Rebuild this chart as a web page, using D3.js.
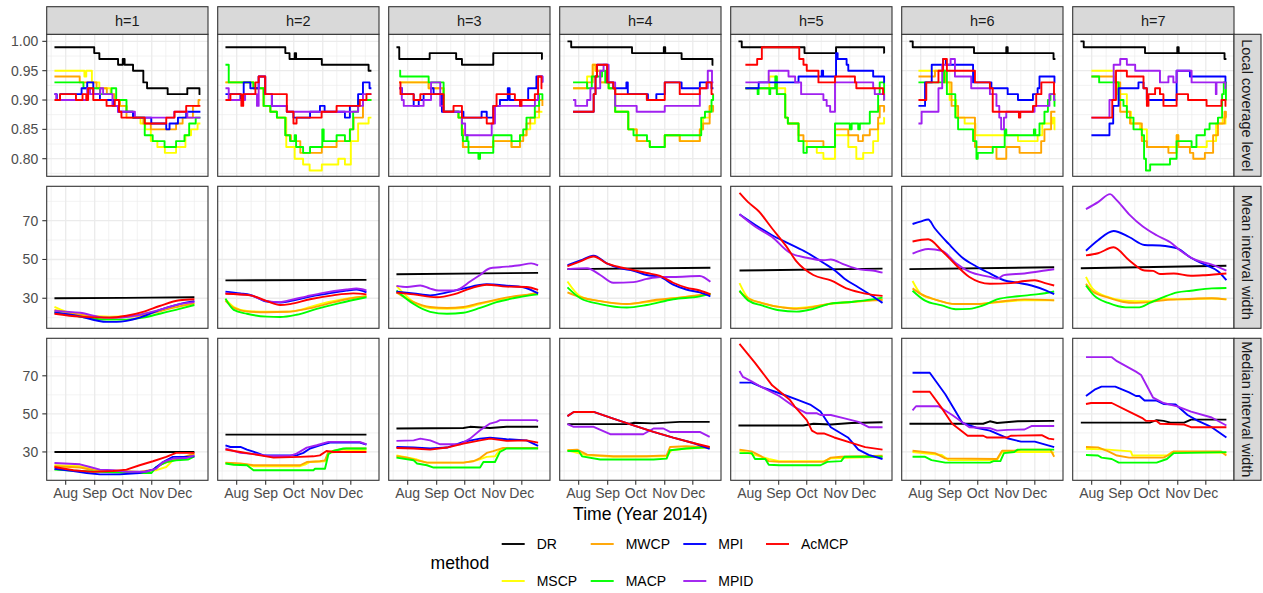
<!DOCTYPE html>
<html><head><meta charset="utf-8">
<script src="https://cdn.jsdelivr.net/npm/d3@7"></script>
<style>body{margin:0;background:#fff;} text{font-family:"Liberation Sans",Arial,Helvetica,sans-serif;}</style>
</head><body><svg id="c" width="1263" height="593"></svg>
<script>
// ---------- categories / labels ----------
const methods = ["DR","MSCP","MWCP","MACP","MPI","MPID","AcMCP"]; // factor / drawing order
const legendOrder = ["DR","MWCP","MPI","AcMCP","MSCP","MACP","MPID"];
const methodColors = ["#000000","#FFFF00","#FFA500","#00FF00","#0000FF","#A020F0","#FF0000"];
const horizons = ["h=1","h=2","h=3","h=4","h=5","h=6","h=7"];
const rowLabels = ["Local coverage level","Mean interval width","Median interval width"];
const monthLabels = ["Aug","Sep","Oct","Nov","Dec"];
const covTicks = [0.80,0.85,0.90,0.95,1.00];
const widthTicks = [30,50,70];
// series are [day, value, day, value, ...] with day = days since 2014-07-20

// ---------- Local coverage level (step series) ----------
const cov_h1 = {
 DR:[0,.99,42.5,.98,48,.97,68,.96,73,.97,75,.96,84,.95,95,.93,99,.92,121,.91,142,.92,155,.91,156,.91],
 MSCP:[0,.95,32,.94,34,.95,40,.93,48,.92,60,.91,64,.9,70,.89,77,.88,84,.87,92,.86,97,.85,103,.83,110,.82,118,.81,130,.82,140,.84,146,.85,153,.86,156,.86],
 MWCP:[0,.94,27,.93,45,.92,56,.91,64,.9,70,.89,77,.87,95,.86,103,.85,130,.86,137,.87,148,.89,154,.9,156,.9],
 MACP:[0,.93,31,.92,48.6,.91,61,.92,66,.9,77,.88,84,.87,96.5,.84,105,.83,117.7,.82,130,.83,139,.84,144,.86,151,.87,156,.87],
 MPI:[0,.91,2.5,.9,6,.91,29,.92,35,.93,41.5,.91,48.6,.9,62.8,.89,68,.88,84,.87,103.5,.86,119.5,.85,123,.86,132,.87,140.8,.88,156,.88],
 MPID:[0,.91,2,.9,35,.92,38,.91,49,.92,52,.91,62,.89,68,.88,86,.87,128,.88,142,.87,156,.87],
 AcMCP:[0,.9,6,.91,23,.9,30,.91,34,.9,36,.92,41.5,.9,55.7,.89,64.5,.9,69,.88,71.6,.87,96.5,.86,119.5,.87,128.4,.88,140.8,.89,156,.89]
};
const cov_h2 = {
 DR:[0,.99,64,.98,68.5,.97,74,.98,75.5,.97,103,.96,153,.95,156,.95],
 MSCP:[0,.93,30,.92,40.8,.89,48,.88,55,.87,65,.82,74,.8,83,.79,90,.78,103,.79,120.6,.8,127.7,.79,134,.83,141.8,.86,153,.87,156,.87],
 MWCP:[0,.93,30,.92,40.8,.89,48,.88,55,.87,64,.84,70,.83,80,.81,103,.82,118.8,.83,133,.85,137,.87,147,.9,156,.9],
 MACP:[0,.96,3.5,.93,30,.92,40.8,.89,48,.88,55,.87,64,.84,69,.83,74,.84,75.5,.82,83,.81,90.4,.82,103.5,.85,105,.83,118.8,.84,127.7,.83,133,.85,136.5,.88,141.8,.9,156,.9],
 MPI:[0,.91,16,.9,19.5,.93,26.6,.92,35.5,.94,42.5,.91,49.6,.89,65.6,.88,72.7,.87,90.4,.88,101,.89,106,.88,127.7,.87,133,.89,141.8,.91,147,.93,154,.92,156,.92],
 MPID:[0,.92,3.5,.9,21,.91,33.7,.89,35.5,.94,42.5,.91,49.6,.89,65.6,.88,141.8,.89,147,.91,156,.91],
 AcMCP:[0,.9,5.3,.91,17,.89,19,.91,32,.93,35.5,.94,42.5,.91,65.6,.88,72.7,.86,76,.87,102.8,.88,118.8,.89,143.6,.9,150.7,.91,156,.91]
};
const cov_h3 = {
 DR:[0,.99,3,.97,35.5,.98,63.8,.97,70,.96,103.5,.98,155.5,.97,156,.97],
 MSCP:[3,.93,34.4,.92,50.4,.88,66.3,.87,69.9,.85,71,.82,103.5,.83,123,.82,132,.84,139,.85,143,.86,148,.87,152.5,.88,156,.88],
 MWCP:[3,.93,34.4,.92,50.4,.88,66.3,.87,69.9,.85,71,.82,103.5,.83,123,.82,132,.83,135.5,.84,139,.86,143,.87,148,.88,152.5,.9,156,.89],
 MACP:[3,.95,4,.94,34.4,.93,50.4,.88,66.3,.87,69.9,.84,71,.83,75,.84,76,.83,77,.81,87.6,.8,89.4,.81,103.5,.84,123,.83,132,.84,135.5,.85,139,.87,147.9,.89,152.5,.91,156,.9],
 MPI:[3,.92,6,.91,18.4,.89,23.8,.9,29,.91,37,.92,39.7,.91,48.6,.88,71.6,.87,91,.88,96.5,.87,103.5,.89,110.6,.9,119,.92,121,.9,140.8,.92,149.6,.94,156,.93],
 MPID:[3,.92,5.7,.9,7.8,.89,29,.9,37,.93,46.8,.89,50.4,.88,70,.86,73.4,.84,101.8,.86,105.3,.89,148,.9,151.4,.94,156,.93],
 AcMCP:[3,.93,4.3,.91,18.4,.9,25.5,.91,50.4,.88,61,.89,70,.87,96.5,.86,103.5,.89,107,.91,126.6,.9,132,.89,133.7,.9,147.9,.91,151.4,.94,155,.92,156,.92]
};
const cov_h4 = {
 DR:[0,1.0,4,.99,69,.98,103,.99,104.5,.98,122,.97,155,.96,156,.96],
 MSCP:[6,.92,21,.94,27,.96,30,.95,35,.93,44,.92,51,.88,65,.85,74,.83,88,.82,104,.84,120,.83,141.5,.85,145,.87,152,.89,156,.89],
 MWCP:[6,.92,21,.93,27,.96,30,.95,35,.93,44,.92,51,.88,65,.85,74,.83,88,.82,104,.84,120,.83,141.5,.85,145,.86,152,.89,155.7,.88,156,.88],
 MACP:[6,.93,21,.92,26,.94,37,.95,40.4,.93,44,.92,51,.88,65,.85,70.6,.84,85,.83,88,.82,104,.84,143,.87,147,.88,154,.9,155.7,.91,156,.91],
 MPI:[6,.88,28,.91,30,.94,31.5,.96,42.5,.93,49,.92,63,.93,64.5,.91,86,.9,95,.91,104,.93,122,.92,141.5,.93,154,.92,156,.92],
 MPID:[6,.9,8.5,.89,21,.9,24.5,.92,35,.95,38.6,.96,44,.93,51,.89,74,.88,104,.89,141.5,.92,150,.95,154.5,.93,156,.93],
 AcMCP:[6,.88,28,.91,30,.94,31.5,.96,42.5,.93,49,.92,51,.91,84.8,.9,104,.93,120,.91,141.5,.92,148.6,.93,154,.91,156,.91]
};
const cov_h5 = {
 DR:[0,1.0,3.5,.99,70.6,.98,104.3,.99,155.7,.98,156,.98],
 MSCP:[7.4,.92,33,.94,41,.92,50,.87,52.8,.86,64.2,.83,73,.82,83.7,.81,90.8,.8,103.2,.84,117.4,.82,126,.8,133.3,.81,144,.83,149.3,.86,155.7,.87,156,.87],
 MWCP:[7.4,.92,39.4,.93,41,.91,50,.87,52.8,.86,64.2,.84,69.5,.83,90.8,.82,103.2,.85,117.4,.84,128,.83,133,.84,140.4,.85,149.3,.87,151,.89,155.7,.88,156,.88],
 MACP:[7.4,.92,20.5,.91,21.5,.92,33,.91,34,.92,39.4,.94,41,.91,50,.87,52.8,.86,64.2,.83,69.5,.81,73,.82,103.2,.86,119,.85,121,.86,128,.85,129.8,.86,140.4,.88,149.3,.91,151,.93,155.7,.9,156,.9],
 MPI:[7.4,.92,21.6,.93,64.2,.94,89,.95,90.5,.94,104.3,.98,106,.97,115.6,.96,117.4,.95,144,.94,155.7,.93,156,.93],
 MPID:[7.4,.93,32.3,.95,53.5,.94,60.6,.93,67,.91,90.8,.9,94.3,.89,98,.88,103.2,.93,144,.92,145.7,.91,155.7,.9,156,.9],
 AcMCP:[7.4,.96,20,.97,25,.99,65,.97,69.5,.96,73,.95,85.5,.93,103.2,.94,124.5,.93,126,.92,154.6,.91,156,.91]
};
const cov_h6 = {
 DR:[0,1.0,3.5,.99,69,.98,103.5,.99,105,.98,154,.97,156,.97],
 MSCP:[9.6,.95,36,.93,43,.9,50,.87,59,.86,70.5,.84,116,.83,137,.84,142,.86,153,.87,155,.85,156,.85],
 MWCP:[9.6,.94,27.3,.95,38,.93,45,.89,52,.87,70,.82,93,.8,103.5,.82,117.7,.81,140.8,.83,144.3,.85,151.4,.88,156,.88],
 MACP:[9.6,.93,37,.95,40,.91,49,.87,52,.85,68,.83,71.6,.8,73,.81,89,.82,101.8,.85,103.5,.84,133,.85,134.5,.84,139,.86,144.3,.88,148,.9,150.7,.91,155,.89,156,.89],
 MPI:[9.6,.89,16.7,.93,23.8,.96,36,.97,39,.96,68,.93,87.6,.92,105,.91,116,.9,132,.91,137,.92,139,.94,155,.93,156,.93],
 MPID:[9.6,.86,13,.88,31,.92,35,.96,44,.97,48.6,.94,66,.92,86,.91,93,.89,96,.87,98,.85,101,.87,103.5,.88,133.7,.89,149.6,.91,154.5,.9,156,.9],
 AcMCP:[9.6,.9,18,.93,31,.95,36,.97,40,.95,70,.93,86,.92,89,.88,117,.87,118.5,.88,132,.89,135.5,.91,141,.93,154.5,.91,156,.91]
};
const cov_h7 = {
 DR:[0,1.0,3.5,.99,69,.98,103.5,.99,105,.98,154,.97,156,.97],
 MSCP:[11.7,.95,37,.93,40,.91,49.6,.88,54,.86,63.8,.85,71,.82,103,.84,104.6,.82,135,.83,145,.86,152,.87,155,.86,156,.86],
 MWCP:[11.7,.94,37,.93,42.5,.88,53,.86,65.6,.83,71,.82,94,.81,102.8,.84,104.6,.82,117,.81,120.6,.8,133,.81,141.8,.84,147,.86,154,.88,155.5,.87,156,.87],
 MACP:[11.7,.94,20,.93,40.8,.9,46,.89,49.6,.87,56.7,.85,65.6,.84,68,.8,70,.78,74.5,.79,95.7,.8,102.8,.83,118.8,.82,124,.84,133,.85,138,.86,147,.87,151.4,.91,153.2,.93,155.5,.9,156,.9],
 MPI:[11.7,.84,31,.86,35,.89,40.8,.92,62,.93,67.4,.92,70.9,.9,102.8,.95,117,.94,155,.93,156,.93],
 MPID:[11.7,.87,31,.9,35.5,.96,42.5,.97,49.6,.96,58.5,.95,85,.93,94,.94,99.3,.93,102.8,.95,118.8,.93,144.7,.91,145.4,.93,155,.92,156,.92],
 AcMCP:[11.7,.87,30,.87,34,.9,38,.95,49.6,.94,67.4,.92,71,.89,72.7,.91,79.8,.92,85,.91,88.7,.89,102.8,.91,115,.9,134.8,.89,150.7,.9,155,.89,156,.89]
};

// ---------- Mean interval width ----------
const mean_h1 = {
 DR:[0,30,75,30.2,149.6,30.5],
 MSCP:[0,25.5,20.2,22,59.2,20.5,84,21,105.3,23,126.6,25.5,149.6,27],
 MWCP:[0,24,27.3,21.5,59.2,20,84,20.5,101.8,22,126.6,25,149.6,27.5],
 MACP:[0,23,27.3,20.5,55.7,19,77,19,94.7,20,112.4,22,133.7,24.5,149.6,26.5],
 MPI:[0,22.5,23.8,21,55.7,17.8,66.3,17.8,91,20,112.4,24,133.7,27,149.6,28.5],
 MPID:[0,23.5,27.3,22.5,55.7,20,66.3,20,91,21.5,112.4,24,133.7,27,149.6,28],
 AcMCP:[0,22,27.3,20.5,59.2,20,77,21,94.7,23,112.4,26,133.7,29,149.6,29.5]
};
const mean_h2 = {
 DR:[0,39.2,150.7,39.5],
 MSCP:[0,29.5,8.9,25.5,23,23.5,44.3,23,65.6,23,79.8,24,101,27,126,29.5,150.7,31],
 MWCP:[0,28.8,8.9,25,26.6,23,44.3,22.8,65.6,23,86.9,24.5,108,27,129.4,29.5,150.7,31],
 MACP:[0,29.8,8.9,24,23,22,44.3,20.5,58.5,20.3,76,21.5,97.5,24.5,122,27.5,150.7,30.5],
 MPI:[0,33.4,16,32.5,26.6,31.7,44.3,28.3,58.5,27.8,69,28.5,86.9,30.5,104.6,32,129.4,34,140,34.5,150.7,33],
 MPID:[0,32.5,16,32,26.6,31.5,44.3,28.5,58.5,28,69,29,86.9,31,104.6,32.8,129.4,34.5,140,35,150.7,34],
 AcMCP:[0,32.3,26.6,31.5,44.3,28.5,58.5,26.5,69,27,90.4,29.5,115,31.5,136.5,32.5,150.7,32]
};
const mean_h3 = {
 DR:[0,42.4,151.4,43.1],
 MSCP:[0,36.4,18.4,28,36,25,54,24.6,71.6,25,89.4,27,107,29,124.8,30.5,142.5,32,151.4,33],
 MWCP:[0,33,18.4,28,36,25.5,54,25,71.6,25.5,89.4,27.5,107,29.3,124.8,31,142.5,32,151.4,33],
 MACP:[0,34,18.4,27,36,23,54,22,71.6,22.5,89.4,25,107,28,124.8,30,142.5,31.5,151.4,32],
 MPI:[0,33.4,18.4,32.5,36,31.5,54,33,71.6,35,96.5,37.2,117.7,36.5,135.5,35.7,151.4,32.5],
 MPID:[0,36.4,11.3,35.8,25.5,36.6,36,35,45,34,61,34,68,35,78.7,38.6,89.4,42,100,45.5,110.6,46,132,47,144,48,151.4,47],
 AcMCP:[0,32.9,18.4,32,43,30.5,61,32,78.7,35,96.5,37,117.7,36,139,35.8,151.4,34.3]
};
const mean_h4 = {
 DR:[0,45,152.8,45.7],
 MSCP:[0,38.6,13.8,31,35,28.5,63.5,27,84.8,28,113,30,141.5,31.5,152.8,32],
 MWCP:[0,33,13.8,30.5,35,28.5,63.5,27,92,29,120,30.3,152.8,32.3],
 MACP:[0,35.6,13.8,30,35,27,63.5,25.2,84.8,26.5,113,29.5,141.5,31,152.8,32.3],
 MPI:[0,47,13.8,49.5,28,52,42,48,56,45.5,70.6,44.2,84.8,42,99,41,113,37,127,34.5,141.5,33,152.8,31],
 MPID:[0,45,21,45.5,35,42,49,38,70.6,38.3,84.8,40,99,41,113,41,141.5,41.5,152.8,38.5],
 AcMCP:[0,46.5,13.8,49,28,51.5,42,48,56,46,70.6,44.5,84.8,43,99,41.5,113,38,127,35.5,141.5,34,152.8,32]
};
const mean_h5 = {
 DR:[1.1,44.3,154,45.3],
 MSCP:[1.1,37.8,10.3,30.3,25,27.6,47,25.3,62,24.9,80,25.8,98.7,27.1,120.8,28.1,143,28.9,154,29.4],
 MWCP:[1.1,33.5,10.3,30,25,27.5,47,25.3,62,24.6,80,25.5,98.7,27.3,120.8,28.1,143,28.9,154,29.1],
 MACP:[1.1,33.9,10.3,28.9,25,26.3,43.5,23.8,62,23.1,80,24.5,98.7,27.2,120.8,28.1,143,29.4,154,30.3],
 MPI:[1.1,73.3,17.7,67.9,36,62.5,54.5,58,73,53.6,91,48.2,102.4,44.6,113.4,40.1,128,35.7,143,31.2,154,27.6],
 MPID:[1.1,73.3,17.7,67,36,61.6,54.5,53.6,73,50.9,91,49.6,98.7,50,113.4,47.3,128,45,143,44.3,154,43.2],
 AcMCP:[1.1,84.4,10.3,79.6,21.4,75,36,66,50.8,57,62,49,80,42,98.7,39.2,117,34.8,135.5,32.4,154,31.2]
};
const mean_h6 = {
 DR:[0,45,154.7,46],
 MSCP:[3.3,38.9,12.5,32.1,27,29.4,49.4,27,71.5,27,93.6,27.9,123,29,154.7,29],
 MWCP:[3.3,35.1,12.5,32.1,27,29.4,49.4,27,71.5,27,93.6,28.1,123,29.4,154.7,28.9],
 MACP:[3.3,33.9,16.2,28.9,34.6,26.3,49.4,24.3,64,24.5,78.8,26.3,93.6,29.4,115.7,31,137.8,32.1,154.7,33.5],
 MPI:[3.3,68.3,12.5,69.7,20,70.6,27,66.1,42,58,56.7,50.9,71.5,46.4,86,42.8,101,39.3,115.7,38,130.4,36.6,145,34.2,154.7,32.1],
 MPID:[3.3,53,20,55.4,34.6,54.5,49.4,48.2,64,43.7,86,41,93.6,40.1,101,41.9,123,42.8,145,44.3,154.7,45],
 AcMCP:[3.3,59.3,20,60.4,34.6,54.5,49.4,47.3,64,41,86,37.5,108.3,37.8,123,38.9,134,39.3,145,37.8,154.7,36.6]
};
const mean_h7 = {
 DR:[0.4,45.5,156,46.8],
 MSCP:[5.9,41,13.3,34.8,29.8,30.6,44.6,28.9,59.3,28.5,74,28.5,88.8,29.9,103.5,29.4,140.5,29.9,156,29.4],
 MWCP:[5.9,37.5,13.3,33.5,29.8,30.3,44.6,28.2,59.3,27.6,74,28,88.8,29,103.5,29.4,140.5,30,156,29.4],
 MACP:[5.9,36.6,15,31.2,29.8,27.6,48.3,25.3,63,25.3,74,27.6,88.8,30.6,103.5,33,118,33.9,140.5,35.1,156,35.3],
 MPI:[5.9,54.5,18.8,59.9,35.4,64.7,52,61.6,68.5,57.5,85,57.2,103.5,55.7,118,50.9,133,47.3,147.7,43.7,156,39.3],
 MPID:[5.9,76,18.8,79.6,31.7,83.7,37.2,81.4,52,73.3,66.7,67,81.4,62.5,96,58.9,107,54.5,122,50,140.5,47.3,156,44.3],
 AcMCP:[5.9,52.1,18.8,53.2,35.4,56.3,52,49.6,68.5,44.3,77.7,44.1,85,42.5,99.8,42.8,118,41.6,133,41.9,156,42.8]
};

// ---------- Median interval width ----------
const med_h1 = {
 DR:[0,30,149.6,30],
 MSCP:[0,23,27.3,22.5,48.6,20.4,91,19.5,108.9,20.4,119.5,22.1,126.6,25.6,140.8,26.5,149.6,28.8],
 MWCP:[0,22.5,27.3,21.8,41.5,20.4,62.8,20,91,19.5,105.3,20.7,116,23.9,126.6,25.6,149.6,29.1],
 MACP:[0,20.7,27.3,20,48.6,19.5,84,18.9,103.5,18.9,108.9,22.1,119.5,24.7,130,25.6,142.6,26,149.6,27.7],
 MPI:[0,21.2,20.2,20,34.4,18.9,48.6,18.2,69.9,18.2,91,18.9,105.3,20.7,116,24.7,126.6,27.4,140.8,27.4,149.6,27.7],
 MPID:[0,24.2,27.3,23.5,38,22.1,48.6,20.7,62.8,20.4,77,19.6,98,19.6,108.9,21.2,116,24.7,126.6,26.5,140.8,26.8,149.6,28.2],
 AcMCP:[0,22.1,20.2,20.4,41.5,19.5,62.8,20,77,20.7,91,23,105.3,25.1,119.5,27.4,130,29.5,149.6,29.5]
};
const med_h2 = {
 DR:[0,39.1,150.7,39.1],
 MSCP:[0,24.2,23,23.3,30,22.5,79.8,22.5,85,23.3,90.4,24.7,106.4,25.1,110,29.5,129.4,30.5,150.7,30.9],
 MWCP:[0,24.4,16,23.9,30,23,79.8,23,86.9,24.7,101,25.1,106.4,25.6,110,30,118.8,30.9,129.4,31.8,150.7,31.8],
 MACP:[0,23.9,8.9,23.3,23,23,30,20.4,94,20.4,95.7,21.2,106.4,21.2,110,28.8,115,30.5,126,31.8,150.7,31.8],
 MPI:[0,33.5,5.3,32.6,16,32.6,23,31.2,33.7,29.5,40.8,28.2,76,28.2,83.3,29.5,90.4,31.8,101,33.5,111.7,34.9,143.6,34.9,150.7,33.9],
 MPID:[0,31.8,16,29.5,33.7,28.8,44.3,27.9,69,27.9,76,29.1,86.9,32.3,97.5,33.5,110,35.3,143.6,35.3,150.7,34],
 AcMCP:[0,31.2,16,30,37.2,28.2,51.4,27,79.8,27.4,94,27.7,101,28.2,108,30.5,115,30,150.7,30]
};
const med_h3 = {
 DR:[0,42.3,71.6,42.6,78.7,43.2,100,42.6,117.7,43.2,151.4,43.2],
 MSCP:[0,28.2,22,26,32.6,24.4,71.6,24.4,85.8,25.6,96.5,27.4,105.3,27.7,110.6,31.2,117.7,32.1,151.4,32.1],
 MWCP:[0,27.7,11.3,27,22,25.6,32.6,24.4,71.6,24.4,82.3,25.1,89.4,26.8,96.5,29.5,103.5,30.4,114,32.1,151.4,32.1],
 MACP:[0,27,18.4,25.6,22,23.9,32.6,23,39.7,21.8,89.4,21.8,92.9,24.7,105.3,24.7,110.6,30,117.7,31.8,151.4,31.8],
 MPI:[0,32.6,18.4,32.3,36,31.8,54,32.3,71.6,35.3,89.4,37,100,37.5,117.7,36.7,139,36.1,151.4,33.2],
 MPID:[0,35.8,18.4,36.1,25.5,37,36,36.1,46.8,34,68,34,78.7,37,89.4,41.4,100,44.9,107,45.8,110.6,46.7,149.6,46.7,151.4,46.1],
 AcMCP:[0,32.1,18.4,31.8,36,31.2,54,32.3,71.6,34.4,89.4,36.1,100,37,117.7,35.8,139,36.1,151.4,34.9]
};
const med_h4 = {
 DR:[0,44.6,63,44.6,70.6,45.3,92,45,106,45.4,120,45.8,152,45.8],
 MSCP:[0,30.9,21,28.2,49,27.4,106,27.7,111.3,30.9,127,31.8,152,32.3],
 MWCP:[0,30.9,10.3,31.2,21,28.6,49,27.7,84.8,27.7,106,28.2,109.6,32.6,127,33,152,32.3],
 MACP:[0,30.5,12,30.5,15.6,27.7,35,26,92,26,106,26.5,109.6,30.9,127,31.8,152,32.6],
 MPI:[0,48.8,6.7,51,28,51,49,47.5,70.6,44,92,40.5,113,37.5,134.4,34.7,152,31.6],
 MPID:[0,44.6,6.7,43.2,28,43.2,45.7,39.3,81,39.3,92,42.3,102.5,42.3,109.6,40.5,141.5,40.5,152,37.9],
 AcMCP:[0,48.8,6.7,51,28,51,49,47.5,70.6,44,92,40.5,113,37.5,134.4,34.7,152,32.6]
};
const med_h5 = {
 DR:[0,43.9,69.2,43.9,80.3,44.8,98.7,44.4,120.8,45.2,154,45.6],
 MSCP:[1.1,30.7,32.4,26.3,43.5,25.2,91.3,25.2,98.7,26.6,154,27.5],
 MWCP:[1.1,31.2,14,30.3,25,27.5,32.4,25.2,43.5,24.8,91.3,24.8,98.7,27,109.8,27.5,154,28],
 MACP:[1.1,29.4,14,29.4,17.7,26.3,28.7,26.3,32.4,23.3,43.5,23,87.7,23,95,24.8,109.8,25.2,113.4,27.5,154,27.5],
 MPI:[1.1,66.4,14,66.4,25,64,47,60.3,62,57.6,76.6,54.9,87.7,51.2,98.7,43,117,37.6,128.2,31.2,139.2,28.5,154,26.3],
 MPID:[1.1,72.5,4.8,69.4,14,67.1,25,64,43.5,59.4,60,53.6,73,50.3,84,50.3,87.7,49.4,98.7,49.4,113.4,47.6,128.2,45.8,139.2,43,154,43],
 AcMCP:[1.1,86.8,17.7,76.8,36,65,54.5,57.6,60,54,73,46.7,78.5,41.2,84,39.7,91.3,39.7,102.4,37.6,120.8,34.8,135.5,32.5,154,31.2]
};
const med_h6 = {
 DR:[0,44.8,78.8,44.8,86,46.1,93.6,45.2,115.7,46.1,154.7,46.3],
 MSCP:[3.3,30,34.6,28.4,42,25.7,93.6,25.7,99,30,150.6,30,154.7,29.5],
 MWCP:[3.3,30.6,27.3,29.4,38.3,26.6,93.6,26.3,99,30.6,112,30.6,119.3,31.2,150.6,31.2,154.7,27.5],
 MACP:[3.3,27.5,16.2,27.5,23.6,25.7,38.3,24.4,86,24.4,89.9,25.2,97.2,25.2,101,29.4,112,30,115.7,31.2,154.7,31.2],
 MPI:[3.3,71.6,21.7,71.6,38.3,60.3,56.7,45.2,71.5,42.7,86,41.2,104.6,37.2,119.3,35.4,134,35.4,154.7,32.5],
 MPID:[3.3,51.8,7,54,31,54,45.7,49.4,64,43,86,42.5,93.6,41.2,104.6,41.6,123,41.8,130.4,43.6,154.7,43.6],
 AcMCP:[3.3,61.6,21.7,61.6,34.6,53,45.7,44.8,62.2,38.5,78.8,38.5,82.5,37.6,104.6,37.6,108.3,38.5,141.4,38.8,148.8,37,154.7,36.6]
};
const med_h7 = {
 DR:[0.4,45.4,74,45.4,81.4,46.7,88.8,46.3,96.1,45.4,110.9,45.4,118.2,47,156,47],
 MSCP:[5.9,31.7,29.8,31.2,53.8,30.3,55.6,28.1,92.4,28.1,98,30,156,29.5],
 MWCP:[5.9,32.6,18.8,32.4,29.8,30.3,39,28.1,52,27,88.8,27,94.3,28.4,99.8,30.3,150,30.3,156,28.1],
 MACP:[5.9,28.4,18.8,28.1,22.5,27,33.5,26.3,40.9,24.4,81.4,24.4,92.4,26.3,99.8,29.4,156,29.9],
 MPI:[5.9,59.4,15.1,62.7,22.5,64.3,37.2,64.3,52,61.3,59.3,59.4,63,59.4,68.5,57,81.4,57,88.8,55.2,101.7,54.9,114.5,49.4,125.6,46.3,140.3,43,156,37.6],
 MPID:[5.9,79.8,33.5,79.8,39,77.7,59.3,72.2,64.8,70.4,77.7,58.5,88.8,55.7,103.5,53.9,118.2,51.2,140.3,48.1,156,43.9],
 AcMCP:[5.9,55.2,11.4,55.7,33.5,55.7,52,51.2,66.7,47.6,70.3,46.3,81.4,46.3,85,44.8,110.9,44.4,118.2,43,156,43]
};

const coverageRows = [cov_h1,cov_h2,cov_h3,cov_h4,cov_h5,cov_h6,cov_h7];
const meanRows = [mean_h1,mean_h2,mean_h3,mean_h4,mean_h5,mean_h6,mean_h7];
const medianRows = [med_h1,med_h2,med_h3,med_h4,med_h5,med_h6,med_h7];

// ---------- layout ----------
const svg = d3.select("#c");
const W = 1263, H = 593;
const panelX0 = 46.7, panelStep = 171.0, panelW = 161.3;
const rowY0 = [34.3, 186.3, 338.3], panelH = 142;
const stripTop = 6.7, stripRight = 1261;
const FONT_TICK = 14, FONT_STRIP = 14.5, FONT_TITLE = 17.6;
const LINE_W = 1.9;

svg.append("rect").attr("width",W).attr("height",H).attr("fill","#fff");

const color = d3.scaleOrdinal().domain(methods).range(methodColors);
const day0 = Date.UTC(2014,6,20);
const toDate = d => new Date(day0 + d*86400000);
const x = d3.scaleUtc()
  .domain([new Date(Date.UTC(2014,6,11,17)), new Date(Date.UTC(2014,11,31,3))])
  .range([0, panelW]);
const majorX = d3.utcMonth.range(new Date(Date.UTC(2014,7,1)), new Date(Date.UTC(2014,11,2)));
const allMonths = d3.utcMonth.range(new Date(Date.UTC(2014,6,1)), new Date(Date.UTC(2015,0,2)));
const minorX = d3.pairs(allMonths).map(([a,b]) => new Date((+a + +b)/2))
  .filter(d => d >= x.domain()[0] && d <= x.domain()[1]);

const yScales = [
  d3.scaleLinear().domain([0.770, 1.012]).range([panelH, 0]),
  d3.scaleLinear().domain([14.5, 87.75]).range([panelH, 0]),
  d3.scaleLinear().domain([15.1, 89.7]).range([panelH, 0])
];
const yMajor = [covTicks, widthTicks, widthTicks];
const yMinor = [[0.775,0.825,0.875,0.925,0.975],[20,40,60,80],[20,40,60,80]];
const yFmt = [d3.format(".2f"), d3.format("d"), d3.format("d")];
const rowData = [coverageRows, meanRows, medianRows];
const rowCurve = [d3.curveStepAfter, d3.curveMonotoneX, d3.curveLinear];

const toPts = arr => d3.range(0, arr.length, 2).map(i => [toDate(arr[i]), arr[i+1]]);

const defs = svg.append("defs");
defs.append("clipPath").attr("id","pclip").append("rect")
  .attr("x",0).attr("y",0).attr("width",panelW).attr("height",panelH);

for (let r = 0; r < 3; r++) {
  const y = yScales[r];
  horizons.forEach((h, c) => {
    const px = panelX0 + c*panelStep, py = rowY0[r];
    const g = svg.append("g").attr("transform", `translate(${px},${py})`);
    g.append("rect").attr("width",panelW).attr("height",panelH).attr("fill","#fff");
    const grid = g.append("g");
    grid.selectAll(".mx").data(minorX).join("line")
      .attr("x1",d=>x(d)).attr("x2",d=>x(d)).attr("y1",0).attr("y2",panelH)
      .attr("stroke","#ebebeb").attr("stroke-width",0.65);
    grid.selectAll(".my").data(yMinor[r]).join("line")
      .attr("x1",0).attr("x2",panelW).attr("y1",d=>y(d)).attr("y2",d=>y(d))
      .attr("stroke","#ebebeb").attr("stroke-width",0.65);
    grid.selectAll(".Mx").data(majorX).join("line")
      .attr("x1",d=>x(d)).attr("x2",d=>x(d)).attr("y1",0).attr("y2",panelH)
      .attr("stroke","#ebebeb").attr("stroke-width",1.3);
    grid.selectAll(".My").data(yMajor[r]).join("line")
      .attr("x1",0).attr("x2",panelW).attr("y1",d=>y(d)).attr("y2",d=>y(d))
      .attr("stroke","#ebebeb").attr("stroke-width",1.3);

    const line = d3.line().x(d=>x(d[0])).y(d=>y(d[1])).curve(rowCurve[r]);
    const series = rowData[r][c];
    const lg = g.append("g").attr("clip-path","url(#pclip)");
    methods.forEach(m => {
      lg.append("path").attr("d", line(toPts(series[m])))
        .attr("fill","none").attr("stroke",color(m)).attr("stroke-width",LINE_W)
        .attr("stroke-linejoin","round");
    });
    g.append("rect").attr("width",panelW).attr("height",panelH)
      .attr("fill","none").attr("stroke","#333333").attr("stroke-width",1.1);

    if (c === 0) {
      const ax = g.append("g");
      yMajor[r].forEach(t => {
        ax.append("line").attr("x1",-4.4).attr("x2",0).attr("y1",y(t)).attr("y2",y(t))
          .attr("stroke","#333333").attr("stroke-width",1.1);
        ax.append("text").attr("x",-8.5).attr("y",y(t)).attr("dy","0.35em")
          .attr("text-anchor","end").attr("font-size",FONT_TICK).attr("fill","#4d4d4d")
          .text(yFmt[r](t));
      });
    }
    if (r === 2) {
      const ax = g.append("g");
      majorX.forEach((t,i) => {
        ax.append("line").attr("x1",x(t)).attr("x2",x(t)).attr("y1",panelH).attr("y2",panelH+4.4)
          .attr("stroke","#333333").attr("stroke-width",1.1);
        ax.append("text").attr("x",x(t)).attr("y",panelH+17.5)
          .attr("text-anchor","middle").attr("font-size",FONT_TICK).attr("fill","#4d4d4d")
          .text(monthLabels[i]);
      });
    }
    if (r === 0) {
      svg.append("rect").attr("x",px).attr("y",stripTop).attr("width",panelW).attr("height",py-stripTop)
        .attr("fill","#d9d9d9").attr("stroke","#333333").attr("stroke-width",1.1);
      svg.append("text").attr("x",px+panelW/2).attr("y",(stripTop+py)/2).attr("dy","0.36em")
        .attr("text-anchor","middle").attr("font-size",FONT_STRIP).attr("fill","#1a1a1a").text(h);
    }
  });
  const sx = panelX0 + 6*panelStep + panelW;
  svg.append("rect").attr("x",sx).attr("y",rowY0[r]).attr("width",stripRight-sx).attr("height",panelH)
    .attr("fill","#d9d9d9").attr("stroke","#333333").attr("stroke-width",1.1);
  svg.append("text")
    .attr("transform",`translate(${(sx+stripRight)/2},${rowY0[r]+panelH/2}) rotate(90)`)
    .attr("dy","0.36em").attr("text-anchor","middle").attr("font-size",FONT_STRIP)
    .attr("fill","#1a1a1a").text(rowLabels[r]);
}

svg.append("text").attr("x", panelX0 + (6*panelStep+panelW)/2).attr("y",519.5)
  .attr("text-anchor","middle").attr("font-size",FONT_TITLE).attr("fill","#000").text("Time (Year 2014)");

const legend = svg.append("g");
legend.append("text").attr("x",430.5).attr("y",563).attr("dy","0.36em")
  .attr("font-size",FONT_TITLE).attr("fill","#000").text("method");
const colX = [501.7, 590.7, 683.3, 766];
const rowYL = [544, 581];
legendOrder.forEach((m,i) => {
  const cx = colX[i < 4 ? i : i-4], cy = rowYL[i < 4 ? 0 : 1];
  legend.append("line").attr("x1",cx).attr("x2",cx+23).attr("y1",cy).attr("y2",cy)
    .attr("stroke",color(m)).attr("stroke-width",LINE_W);
  legend.append("text").attr("x",cx+35).attr("y",cy).attr("dy","0.36em")
    .attr("font-size",FONT_TICK).attr("fill","#000").text(m);
});
</script></body></html>
